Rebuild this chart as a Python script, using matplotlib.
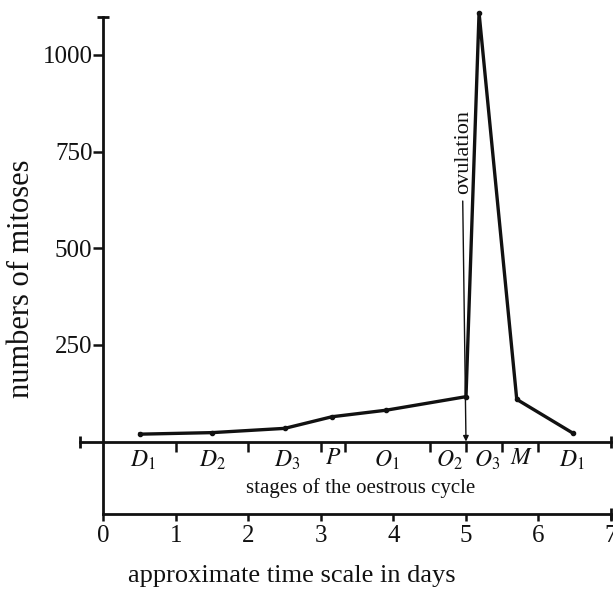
import matplotlib
matplotlib.use("Agg")
import matplotlib.pyplot as plt

plt.rcParams['font.family'] = ['Liberation Serif', 'DejaVu Serif']
plt.rcParams['mathtext.fontset'] = 'stix'

# mitoses counts across the oestrous cycle (x in days)
days = [0.5, 1.5, 2.5, 3.15, 3.9, 5.0, 5.18, 5.7, 6.48]
mitoses = [19, 23, 34, 64, 81, 116, 1109, 109, 21]

# stage names and where they sit on the time scale
stage_labels = ['$D_1$', '$D_2$', '$D_3$', '$P$', '$O_1$', '$O_2$', '$O_3$', '$M$', '$D_1$']
stage_centers = [0.55, 1.51, 2.53, 3.17, 3.91, 4.77, 5.29, 5.77, 6.46]
stage_bounds = [1.0, 2.0, 3.0, 3.33, 4.5, 5.0, 5.5, 6.0]

day_ticks = [0, 1, 2, 3, 4, 5, 6, 7]
y_ticks = [250, 500, 750, 1000]
ovulation_day = 5.0

xlo, xhi = -0.324, 7.0
ylo, yhi = -187.5, 1098

fig = plt.figure(figsize=(6.13, 5.89), dpi=100)
ax = fig.add_axes([80 / 613, 1 - 514 / 589, (611 - 80) / 613, (514 - 17) / 589])
ax.set_xlim(xlo, xhi)
ax.set_ylim(ylo, yhi)

ink = '#111111'
ax.plot(days, mitoses, color=ink, lw=2.4, marker='o', ms=3, clip_on=False)

# axes: y axis at day 0, stage axis at zero mitoses
for s in ['top', 'right']:
    ax.spines[s].set_visible(False)
ax.spines['left'].set_position(('data', 0))
ax.spines['bottom'].set_position(('data', 0))
for s in ['left', 'bottom']:
    ax.spines[s].set_linewidth(2)
    ax.spines[s].set_color(ink)

ax.set_yticks(y_ticks)
ax.set_yticklabels([str(v) for v in y_ticks])
ax.tick_params(axis='y', direction='out', length=7, width=1.8, pad=1,
               labelsize=18, colors=ink)

ax.set_xticks(stage_bounds)
ax.set_xticklabels([''] * len(stage_bounds))
ax.set_xticks(stage_centers, minor=True)
ax.set_xticklabels(stage_labels, minor=True)
ax.tick_params(axis='x', which='major', direction='out', length=7, width=1.8, colors=ink)
ax.tick_params(axis='x', which='minor', length=0, pad=5, labelsize=17, colors=ink)

# end caps
ax.plot([0], [yhi], marker='_', ms=9, mew=2, color=ink, clip_on=False)
ax.plot([xlo, xhi], [0, 0], ls='none', marker='|', ms=9, mew=2, color=ink, clip_on=False)
ax.plot([xhi], [ylo], marker='|', ms=9, mew=2, color=ink, clip_on=False)

ax.text(3.55, -120, 'stages of the oestrous cycle', ha='center', va='center',
        fontsize=15, color=ink)

# ovulation marker
ax.annotate('', xy=(ovulation_day, 0), xytext=(ovulation_day - 0.045, 622),
            arrowprops=dict(arrowstyle='-|>', lw=1, color=ink, mutation_scale=8,
                            shrinkA=0, shrinkB=0))
ax.text(ovulation_day - 0.035, 640, 'ovulation', rotation=90, ha='center', va='bottom',
        fontsize=16, color=ink)

# time scale axis along the bottom
sec = ax.secondary_xaxis(0.0)
sec.set_xticks(day_ticks)
sec.set_xticklabels([str(d) for d in day_ticks])
sec.spines['bottom'].set_bounds(0, 7)
sec.spines['bottom'].set_linewidth(2)
sec.spines['bottom'].set_color(ink)
sec.tick_params(direction='out', length=5, width=1.8, pad=3, labelsize=18, colors=ink)

fig.text((103.5 + 72.5 * 2.6) / 613, 1 - 576 / 589, 'approximate time scale in days',
         ha='center', va='center', fontsize=19, color=ink)
fig.text(22 / 613, 1 - 279 / 589, 'numbers of mitoses', rotation=90, ha='center',
         va='center', fontsize=22, color=ink)

fig.savefig('out.png', dpi=100)
